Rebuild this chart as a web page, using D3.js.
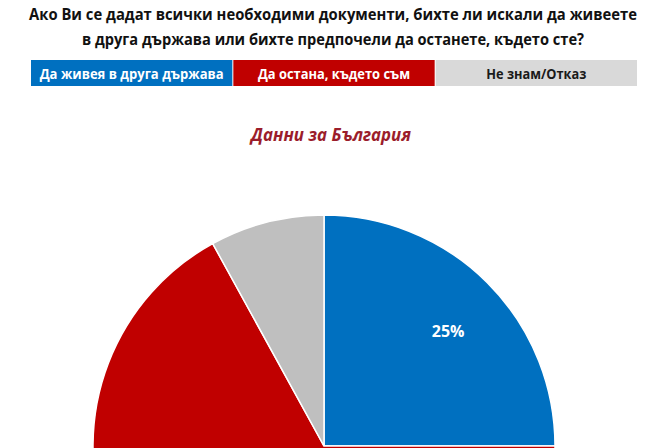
<!DOCTYPE html>
<html><head><meta charset="utf-8">
<script src="https://cdn.jsdelivr.net/npm/d3@7"></script>
<style>body{margin:0;background:#fff}svg{display:block}</style>
</head><body>
<svg id="c" width="665" height="448"></svg>
<script>
const titleLines = ["Ако Ви се дадат всички необходими документи, бихте ли искали да живеете",
                    "в друга държава или бихте предпочели да останете, където сте?"];
const subtitle = "Данни за България";
const categories = ["Да живея в друга държава", "Да остана, където съм", "Не знам/Отказ"];
const values = [25, 67, 8];
const colors = ["#0070c0", "#c00000", "#bfbfbf"];
const legendColors = ["#0070c0", "#c00000", "#d9d9d9"];
const legendText = ["#ffffff", "#ffffff", "#1a1a1a"];
const labelShown = [true, false, false];

const svg = d3.select("#c");
const font = "'Open Sans', 'Noto Sans', sans-serif";

// Title
const titleWidths = [608, 502];
const tt = svg.append("g");
titleLines.forEach((t, i) => {
  tt.append("text").attr("x", 333).attr("y", 19.5 + i * 25)
    .attr("text-anchor", "middle").attr("font-family", font).attr("font-weight", "bold")
    .attr("font-size", 15.2).attr("fill", "#111")
    .attr("textLength", titleWidths[i]).attr("lengthAdjust", "spacingAndGlyphs").text(t);
});

// Legend
const legendWidths = [184, 152, 100];
const lx = d3.scaleBand().domain(categories).range([31, 637]).paddingInner(0.005);
const lg = svg.append("g");
lg.selectAll("rect").data(categories).join("rect")
  .attr("x", d => lx(d)).attr("y", 60).attr("width", lx.bandwidth()).attr("height", 26)
  .attr("fill", (d, i) => legendColors[i]);
lg.selectAll("text").data(categories).join("text")
  .attr("x", d => lx(d) + lx.bandwidth() / 2).attr("y", 78.5)
  .attr("text-anchor", "middle").attr("font-family", font).attr("font-weight", "bold")
  .attr("font-size", 14.5).attr("fill", (d, i) => legendText[i])
  .attr("textLength", (d, i) => legendWidths[i]).attr("lengthAdjust", "spacingAndGlyphs")
  .text(d => d);

// Subtitle
svg.append("text").attr("x", 331).attr("y", 141).attr("text-anchor", "middle")
  .attr("font-family", font).attr("font-weight", "bold").attr("font-style", "italic")
  .attr("font-size", 17).attr("fill", "#9b1d2b")
  .attr("textLength", 160).attr("lengthAdjust", "spacingAndGlyphs").text(subtitle);

// Pie
const cx = 324, cy = 446, R = 231;
const pie = d3.pie().sort(null).value(d => d)(values);
const arc = d3.arc().innerRadius(0).outerRadius(R);
const labelArc = d3.arc().innerRadius(R * 0.76).outerRadius(R * 0.76);
const g = svg.append("g").attr("transform", `translate(${cx},${cy})`);
g.selectAll("path").data(pie).join("path")
  .attr("d", arc).attr("fill", (d, i) => colors[i])
  .attr("stroke", "#ffffff").attr("stroke-width", 1.5);
g.selectAll("text").data(pie.filter((d, i) => labelShown[i])).join("text")
  .attr("transform", d => { const c = labelArc.centroid(d); return `translate(${c[0]},${c[1] + 10})`; })
  .attr("text-anchor", "middle").attr("dy", "0.35em")
  .attr("font-family", font).attr("font-weight", "bold").attr("font-size", 16)
  .attr("fill", "#ffffff").text(d => d.data + "%");
</script>
</body></html>
